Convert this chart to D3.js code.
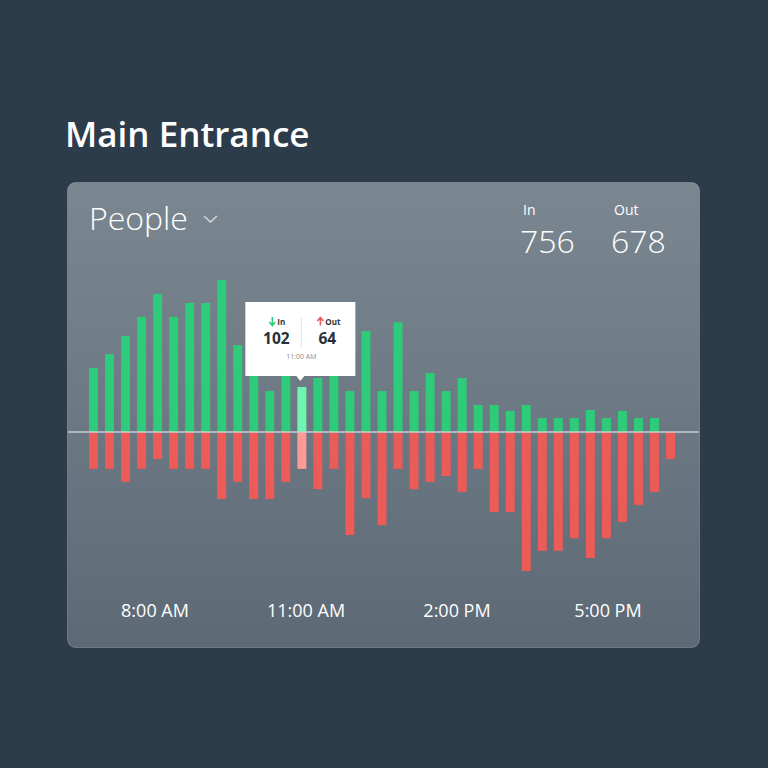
<!DOCTYPE html>
<html>
<head>
<meta charset="utf-8">
<script src="https://cdn.jsdelivr.net/npm/d3@7"></script>
<style>
  html, body { margin: 0; padding: 0; background: #2d3c4b; }
  svg { display: block; }
</style>
</head>
<body>
<svg id="chart" width="768" height="768"></svg>
<script>
// ---- data ----
const slots = d3.range(37).map(i => "s" + i);
const peopleIn = [142, 173, 213, 256, 307, 256, 287, 287, 338, 193, 156, 91, 133, 100, 120, 142, 91, 224, 91,
                  244, 91, 131, 91, 120, 60, 60, 47, 60, 31, 31, 31, 49, 31, 47, 31, 31, 0];
const peopleOut = [82, 82, 111, 82, 60, 82, 82, 82, 149, 111, 149, 149, 111, 82, 127, 82, 229, 147, 207,
                   82, 127, 111, 98, 133, 82, 178, 178, 309, 264, 264, 236, 280, 236, 200, 162, 133, 60];
const tickLabels = ["8:00 AM", "11:00 AM", "2:00 PM", "5:00 PM"];
const totalIn = 756, totalOut = 678;
const highlightIndex = 13;
const tooltipIn = 102, tooltipOut = 64, tooltipTime = "11:00 AM";

const svg = d3.select("#chart");
const font = "'Open Sans', sans-serif";

// background
svg.append("rect").attr("width", 768).attr("height", 768).attr("fill", "#2d3c4b");

// title
svg.append("text").attr("x", 65).attr("y", 147)
  .attr("font-family", font).attr("font-size", 35).attr("font-weight", 600)
  .attr("fill", "#ffffff").text("Main Entrance");

// card
const defs = svg.append("defs");
const grad = defs.append("linearGradient").attr("id", "cardGrad")
  .attr("x1", 0).attr("y1", 0).attr("x2", 0).attr("y2", 1);
grad.append("stop").attr("offset", "0%").attr("stop-color", "#7b8790");
grad.append("stop").attr("offset", "100%").attr("stop-color", "#5d6975");

svg.append("rect").attr("x", 67.5).attr("y", 182.5).attr("width", 632).attr("height", 465)
  .attr("rx", 8).attr("fill", "url(#cardGrad)")
  .attr("stroke", "rgba(255,255,255,0.22)").attr("stroke-width", 1);

// header
svg.append("text").attr("x", 89).attr("y", 230)
  .attr("font-family", font).attr("font-size", 32).attr("font-weight", 300)
  .attr("fill", "#ffffff").text("People");
svg.append("path").attr("d", "M204,216 L210.5,222 L217,216")
  .attr("fill", "none").attr("stroke", "rgba(255,255,255,0.7)").attr("stroke-width", 1.3);

const stats = [{label: "In", value: totalIn, x: 521}, {label: "Out", value: totalOut, x: 612}];
stats.forEach(s => {
  svg.append("text").attr("x", s.x + 2).attr("y", 215)
    .attr("font-family", font).attr("font-size", 14).attr("font-weight", 400)
    .attr("fill", "#ffffff").text(s.label);
  svg.append("text").attr("x", s.x - 1).attr("y", 253)
    .attr("font-family", font).attr("font-size", 32).attr("font-weight", 300)
    .attr("fill", "#ffffff").text(s.value);
});

// scales
const x = d3.scaleBand().domain(slots).range([89, 675]).paddingInner(0.44).paddingOuter(0);
const y = d3.scaleLinear().domain([-320, 340]).range([432 + 144, 432 - 153]);

const g = svg.append("g");
g.selectAll("rect.in").data(peopleIn).join("rect").attr("class", "in")
  .attr("x", (d, i) => x(slots[i])).attr("width", x.bandwidth())
  .attr("y", d => y(d)).attr("height", d => y(0) - y(d))
  .attr("fill", (d, i) => i === highlightIndex ? "#6ff5b1" : "#2ecb7a");
g.selectAll("rect.out").data(peopleOut).join("rect").attr("class", "out")
  .attr("x", (d, i) => x(slots[i])).attr("width", x.bandwidth())
  .attr("y", y(0)).attr("height", d => y(-d) - y(0))
  .attr("fill", (d, i) => i === highlightIndex ? "#ff9b96" : "#eb5b58");

// zero line
svg.append("line").attr("x1", 68).attr("x2", 699).attr("y1", y(0)).attr("y2", y(0))
  .attr("stroke", "#c8cdd2").attr("stroke-width", 1.5);

// x tick labels
const xl = d3.scalePoint().domain(tickLabels).range([155, 608]);
svg.selectAll("text.tick").data(tickLabels).join("text").attr("class", "tick")
  .attr("x", d => xl(d)).attr("y", 617).attr("text-anchor", "middle")
  .attr("font-family", font).attr("font-size", 18).attr("font-weight", 400)
  .attr("fill", "#ffffff").text(d => d);

// tooltip
const cx = x(slots[highlightIndex]) + x.bandwidth() / 2;
const tt = svg.append("g").attr("transform", `translate(${cx - 56.5},302)`);
tt.append("path").attr("d", "M0,0 H110 V74 H59 L55,79 L51,74 H0 Z").attr("fill", "#ffffff");
tt.append("line").attr("x1", 56).attr("x2", 56).attr("y1", 16).attr("y2", 45)
  .attr("stroke", "#e3e3e3").attr("stroke-width", 1);
// in arrow (down, green)
tt.append("path").attr("d", "M27,15 V23 M24,20 L27,23.5 L30,20")
  .attr("fill", "none").attr("stroke", "#2ecb7a").attr("stroke-width", 1.6);
tt.append("text").attr("x", 32).attr("y", 22.5).attr("font-family", font).attr("font-size", 8)
  .attr("font-weight", 700).attr("fill", "#333").text("In");
tt.append("text").attr("x", 31).attr("y", 41.5).attr("text-anchor", "middle")
  .attr("font-family", font).attr("font-size", 15.5).attr("font-weight", 700).attr("fill", "#26303a").text(tooltipIn);
// out arrow (up, red)
tt.append("path").attr("d", "M75,23.5 V16 M72,19 L75,15.5 L78,19")
  .attr("fill", "none").attr("stroke", "#eb5b58").attr("stroke-width", 1.6);
tt.append("text").attr("x", 80).attr("y", 22.5).attr("font-family", font).attr("font-size", 8)
  .attr("font-weight", 700).attr("fill", "#333").text("Out");
tt.append("text").attr("x", 82).attr("y", 41.5).attr("text-anchor", "middle")
  .attr("font-family", font).attr("font-size", 15.5).attr("font-weight", 700).attr("fill", "#26303a").text(tooltipOut);
tt.append("text").attr("x", 56).attr("y", 57).attr("text-anchor", "middle")
  .attr("font-family", font).attr("font-size", 7).attr("fill", "#8a8f94").text(tooltipTime);
</script>
</body>
</html>
